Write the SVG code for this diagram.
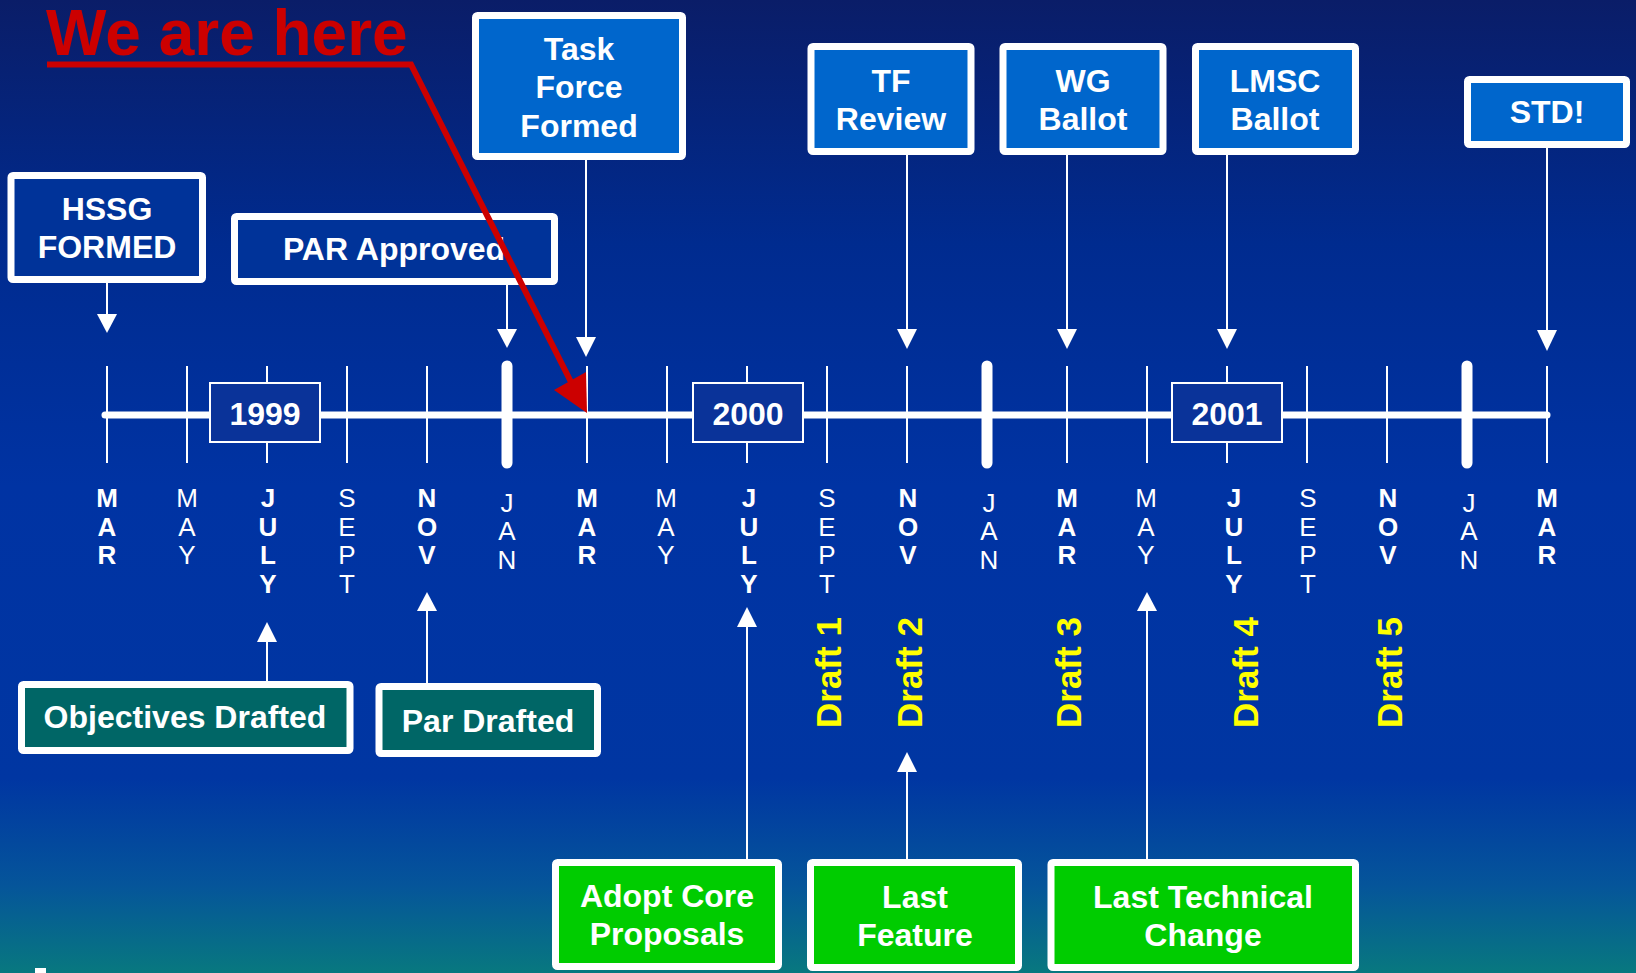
<svg xmlns="http://www.w3.org/2000/svg" width="1636" height="973" viewBox="0 0 1636 973">
<defs>
<linearGradient id="bg" x1="0" y1="0" x2="0" y2="1">
<stop offset="0" stop-color="#0a1d68"/>
<stop offset="0.25" stop-color="#002b8f"/>
<stop offset="0.5" stop-color="#0033a3"/>
<stop offset="0.8" stop-color="#0036a2"/>
<stop offset="0.91" stop-color="#05559a"/>
<stop offset="1" stop-color="#08787f"/>
</linearGradient>
<style>
.lbl{font-family:"Liberation Sans",Arial,sans-serif;font-weight:bold;font-size:32px;fill:#fff;text-anchor:middle}
.box{stroke:#fff;stroke-width:7}
.dk{fill:#003399}
.md{fill:#0066cc}
.tl{fill:#006666}
.gr{fill:#00cc00}
.conn line{stroke:#fff;stroke-width:2}
.conn polygon{fill:#fff}
.mb{font-family:"Liberation Sans",Arial,sans-serif;font-weight:bold;font-size:26px;fill:#fff;text-anchor:middle}
.mn{font-family:"Liberation Sans",Arial,sans-serif;font-weight:normal;font-size:26px;fill:#fff;text-anchor:middle}
.tick{stroke:#fff;stroke-width:2}
.jan{stroke:#fff;stroke-width:11;stroke-linecap:round}
.yr{fill:#0a3399;stroke:#fff;stroke-width:2}
.draft{font-family:"Liberation Sans",Arial,sans-serif;font-weight:bold;font-size:35px;fill:#ffff00}
</style>
</defs>
<rect x="0" y="0" width="1636" height="973" fill="url(#bg)"/>
<rect x="35" y="968" width="11" height="5" fill="#fff"/>

<g id="timeline">
<line x1="105" y1="415" x2="1547" y2="415" stroke="#fff" stroke-width="7" stroke-linecap="round"/>
<g class="ticks">
<line class="tick" x1="107" y1="366" x2="107" y2="463"/>
<line class="tick" x1="187" y1="366" x2="187" y2="463"/>
<line class="tick" x1="267" y1="366" x2="267" y2="463"/>
<line class="tick" x1="347" y1="366" x2="347" y2="463"/>
<line class="tick" x1="427" y1="366" x2="427" y2="463"/>
<line class="jan" x1="507" y1="366" x2="507" y2="463"/>
<line class="tick" x1="587" y1="366" x2="587" y2="463"/>
<line class="tick" x1="667" y1="366" x2="667" y2="463"/>
<line class="tick" x1="747" y1="366" x2="747" y2="463"/>
<line class="tick" x1="827" y1="366" x2="827" y2="463"/>
<line class="tick" x1="907" y1="366" x2="907" y2="463"/>
<line class="jan" x1="987" y1="366" x2="987" y2="463"/>
<line class="tick" x1="1067" y1="366" x2="1067" y2="463"/>
<line class="tick" x1="1147" y1="366" x2="1147" y2="463"/>
<line class="tick" x1="1227" y1="366" x2="1227" y2="463"/>
<line class="tick" x1="1307" y1="366" x2="1307" y2="463"/>
<line class="tick" x1="1387" y1="366" x2="1387" y2="463"/>
<line class="jan" x1="1467" y1="366" x2="1467" y2="463"/>
<line class="tick" x1="1547" y1="366" x2="1547" y2="463"/>
</g>
<g id="year1999"><rect class="yr" x="210" y="383" width="110" height="59"/><text class="lbl" x="265" y="425">1999</text></g>
<g id="year2000"><rect class="yr" x="693" y="383" width="110" height="59"/><text class="lbl" x="748" y="425">2000</text></g>
<g id="year2001"><rect class="yr" x="1172" y="383" width="110" height="59"/><text class="lbl" x="1227" y="425">2001</text></g>
</g>

<g id="months">
<text class="mb" y="507"><tspan x="107">M</tspan><tspan x="107" dy="28.5">A</tspan><tspan x="107" dy="28.5">R</tspan></text>
<text class="mn" y="507"><tspan x="187">M</tspan><tspan x="187" dy="28.5">A</tspan><tspan x="187" dy="28.5">Y</tspan></text>
<text class="mb" y="507"><tspan x="268">J</tspan><tspan x="268" dy="28.5">U</tspan><tspan x="268" dy="28.5">L</tspan><tspan x="268" dy="28.5">Y</tspan></text>
<text class="mn" y="507"><tspan x="347">S</tspan><tspan x="347" dy="28.5">E</tspan><tspan x="347" dy="28.5">P</tspan><tspan x="347" dy="28.5">T</tspan></text>
<text class="mb" y="507"><tspan x="427">N</tspan><tspan x="427" dy="28.5">O</tspan><tspan x="427" dy="28.5">V</tspan></text>
<text class="mn" y="511.5"><tspan x="507">J</tspan><tspan x="507" dy="28.5">A</tspan><tspan x="507" dy="28.5">N</tspan></text>
<text class="mb" y="507"><tspan x="587">M</tspan><tspan x="587" dy="28.5">A</tspan><tspan x="587" dy="28.5">R</tspan></text>
<text class="mn" y="507"><tspan x="666">M</tspan><tspan x="666" dy="28.5">A</tspan><tspan x="666" dy="28.5">Y</tspan></text>
<text class="mb" y="507"><tspan x="749">J</tspan><tspan x="749" dy="28.5">U</tspan><tspan x="749" dy="28.5">L</tspan><tspan x="749" dy="28.5">Y</tspan></text>
<text class="mn" y="507"><tspan x="827">S</tspan><tspan x="827" dy="28.5">E</tspan><tspan x="827" dy="28.5">P</tspan><tspan x="827" dy="28.5">T</tspan></text>
<text class="mb" y="507"><tspan x="908">N</tspan><tspan x="908" dy="28.5">O</tspan><tspan x="908" dy="28.5">V</tspan></text>
<text class="mn" y="511.5"><tspan x="989">J</tspan><tspan x="989" dy="28.5">A</tspan><tspan x="989" dy="28.5">N</tspan></text>
<text class="mb" y="507"><tspan x="1067">M</tspan><tspan x="1067" dy="28.5">A</tspan><tspan x="1067" dy="28.5">R</tspan></text>
<text class="mn" y="507"><tspan x="1146">M</tspan><tspan x="1146" dy="28.5">A</tspan><tspan x="1146" dy="28.5">Y</tspan></text>
<text class="mb" y="507"><tspan x="1234">J</tspan><tspan x="1234" dy="28.5">U</tspan><tspan x="1234" dy="28.5">L</tspan><tspan x="1234" dy="28.5">Y</tspan></text>
<text class="mn" y="507"><tspan x="1308">S</tspan><tspan x="1308" dy="28.5">E</tspan><tspan x="1308" dy="28.5">P</tspan><tspan x="1308" dy="28.5">T</tspan></text>
<text class="mb" y="507"><tspan x="1388">N</tspan><tspan x="1388" dy="28.5">O</tspan><tspan x="1388" dy="28.5">V</tspan></text>
<text class="mn" y="511.5"><tspan x="1469">J</tspan><tspan x="1469" dy="28.5">A</tspan><tspan x="1469" dy="28.5">N</tspan></text>
<text class="mb" y="507"><tspan x="1547">M</tspan><tspan x="1547" dy="28.5">A</tspan><tspan x="1547" dy="28.5">R</tspan></text>
</g>

<g id="drafts">
<text class="draft" transform="translate(841,728) rotate(-90)">Draft 1</text>
<text class="draft" transform="translate(922,728) rotate(-90)">Draft 2</text>
<text class="draft" transform="translate(1081,728) rotate(-90)">Draft 3</text>
<text class="draft" transform="translate(1258,728) rotate(-90)">Draft 4</text>
<text class="draft" transform="translate(1402,728) rotate(-90)">Draft 5</text>
</g>

<g id="connectors" class="conn">
<line x1="107" y1="283" x2="107" y2="316"/><polygon points="97,314 117,314 107,333"/>
<line x1="507" y1="285" x2="507" y2="331"/><polygon points="497,329 517,329 507,348"/>
<line x1="586" y1="160" x2="586" y2="339"/><polygon points="576,337 596,337 586,357"/>
<line x1="907" y1="155" x2="907" y2="331"/><polygon points="897,329 917,329 907,349"/>
<line x1="1067" y1="155" x2="1067" y2="331"/><polygon points="1057,329 1077,329 1067,349"/>
<line x1="1227" y1="155" x2="1227" y2="331"/><polygon points="1217,329 1237,329 1227,349"/>
<line x1="1547" y1="148" x2="1547" y2="332"/><polygon points="1537,330 1557,330 1547,351"/>
<line x1="267" y1="681" x2="267" y2="640"/><polygon points="257,642 277,642 267,622"/>
<line x1="427" y1="683" x2="427" y2="609"/><polygon points="417,611 437,611 427,592"/>
<line x1="747" y1="859" x2="747" y2="625"/><polygon points="737,627 757,627 747,607"/>
<line x1="907" y1="859" x2="907" y2="770"/><polygon points="897,772 917,772 907,752"/>
<line x1="1147" y1="859" x2="1147" y2="609"/><polygon points="1137,611 1157,611 1147,592"/>
</g>

<g id="hssg"><rect class="box dk" x="11" y="175.5" width="191.5" height="104" rx="2"/><text class="lbl" x="107" y="220">HSSG</text><text class="lbl" x="107" y="258">FORMED</text></g>
<g id="par-approved"><rect class="box dk" x="234.5" y="216.5" width="320" height="65" rx="2"/><text class="lbl" x="394" y="260">PAR Approved</text></g>
<g id="task-force"><rect class="box md" x="475.5" y="15.5" width="207" height="141" rx="2"/><text class="lbl" x="579" y="60">Task</text><text class="lbl" x="579" y="98">Force</text><text class="lbl" x="579" y="137">Formed</text></g>
<g id="tf-review"><rect class="box md" x="811" y="46.5" width="160" height="105" rx="2"/><text class="lbl" x="891" y="92">TF</text><text class="lbl" x="891" y="130">Review</text></g>
<g id="wg-ballot"><rect class="box md" x="1003" y="46.5" width="160" height="105" rx="2"/><text class="lbl" x="1083" y="92">WG</text><text class="lbl" x="1083" y="130">Ballot</text></g>
<g id="lmsc-ballot"><rect class="box md" x="1195.5" y="46.5" width="160" height="105" rx="2"/><text class="lbl" x="1275" y="92">LMSC</text><text class="lbl" x="1275" y="130">Ballot</text></g>
<g id="std"><rect class="box md" x="1467.5" y="79.5" width="159" height="65" rx="2"/><text class="lbl" x="1547" y="123">STD!</text></g>
<g id="objectives"><rect class="box tl" x="21.5" y="684.5" width="328.5" height="66" rx="2"/><text class="lbl" x="185" y="728">Objectives Drafted</text></g>
<g id="par-drafted"><rect class="box tl" x="379" y="686.5" width="218.5" height="67" rx="2"/><text class="lbl" x="488" y="732">Par Drafted</text></g>
<g id="adopt-core"><rect class="box gr" x="555.5" y="862.5" width="223" height="104" rx="2"/><text class="lbl" x="667" y="907">Adopt Core</text><text class="lbl" x="667" y="945">Proposals</text></g>
<g id="last-feature"><rect class="box gr" x="810.5" y="862.5" width="208" height="105" rx="2"/><text class="lbl" x="915" y="908">Last</text><text class="lbl" x="915" y="946">Feature</text></g>
<g id="last-tech"><rect class="box gr" x="1051" y="862.5" width="304.5" height="105" rx="2"/><text class="lbl" x="1203" y="908">Last Technical</text><text class="lbl" x="1203" y="946">Change</text></g>

<g id="we-are-here">
<text x="46" y="55" font-family="Liberation Sans, Arial, sans-serif" font-weight="bold" font-size="64" fill="#cc0000">We are here</text>
<polyline points="47,64.5 411,64.5 571,382" fill="none" stroke="#cc0000" stroke-width="6"/>
<polygon points="587,413 554,390 586,372" fill="#cc0000"/>
</g>
</svg>
